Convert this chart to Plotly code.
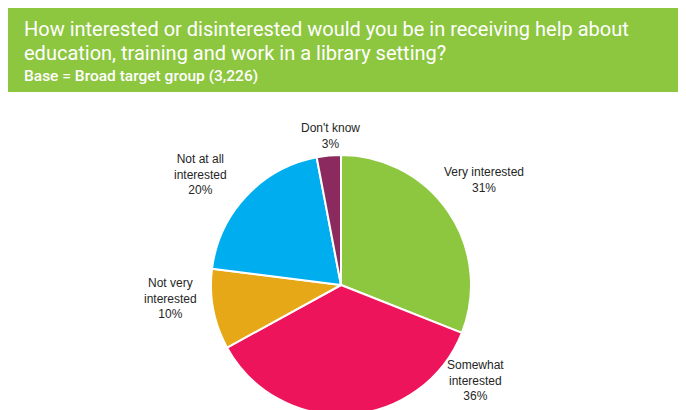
import plotly.graph_objects as go

categories = ["Very interested", "Somewhat interested", "Not very interested", "Not at all interested", "Don't know"]
values = [31, 36, 10, 20, 3]
label_lines = [["Very interested"], ["Somewhat", "interested"], ["Not very", "interested"], ["Not at all", "interested"], ["Don't know"]]
colors = ["#8DC63F", "#ED145B", "#E6A817", "#00AEEF", "#8B2A5E"]

title_lines = ["How interested or disinterested would you be in receiving help about",
               "education, training and work in a library setting?"]
subtitle = "Base = Broad target group (3,226)"

W, H = 678, 410
OFF = 8  # page body margin


def px(x):
    return (x - OFF) / W


def py(y):
    return 1 - (y - OFF) / H


cx, cy, r = 341, 285, 130
fig = go.Figure()
fig.add_trace(go.Pie(
    labels=categories, values=values, sort=False, direction="clockwise", rotation=0,
    marker=dict(colors=colors, line=dict(color="white", width=2)),
    textinfo="none", hoverinfo="label+percent", showlegend=False,
    domain=dict(x=[px(cx - r), px(cx + r)], y=[py(cy + r), py(cy - r)]),
))

label_pos = [(484, 180), (475, 380), (170, 298), (200, 175), (330, 136)]
annotations = []
for lines, v, (lx, ly) in zip(label_lines, values, label_pos):
    annotations.append(dict(
        text="<br>".join(lines + [f"{v}%"]), x=px(lx), y=py(ly), xref="paper", yref="paper",
        showarrow=False, xanchor="center", yanchor="middle", align="center",
        font=dict(family="Liberation Sans, Arial", size=12, color="#262626")))

annotations.append(dict(text=title_lines[0], x=px(22), y=py(29), xref="paper", yref="paper",
                        showarrow=False, xanchor="left", yanchor="middle",
                        font=dict(family="Roboto", size=20, color="white")))
annotations.append(dict(text=title_lines[1], x=px(22), y=py(53), xref="paper", yref="paper",
                        showarrow=False, xanchor="left", yanchor="middle",
                        font=dict(family="Roboto", size=20, color="white")))
annotations.append(dict(text=subtitle, x=px(22), y=py(76), xref="paper", yref="paper",
                        showarrow=False, xanchor="left", yanchor="middle",
                        font=dict(family="Roboto", size=15.5, color="white", weight=500)))

fig.update_layout(
    width=W, height=H, margin=dict(l=0, r=0, t=0, b=0),
    paper_bgcolor="white", plot_bgcolor="white",
    shapes=[dict(type="rect", xref="paper", yref="paper", x0=px(8), x1=px(680),
                 y0=py(92), y1=py(8), fillcolor="#8DC63F", line=dict(width=0), layer="below")],
    annotations=annotations,
)
fig.write_html("out.html")
